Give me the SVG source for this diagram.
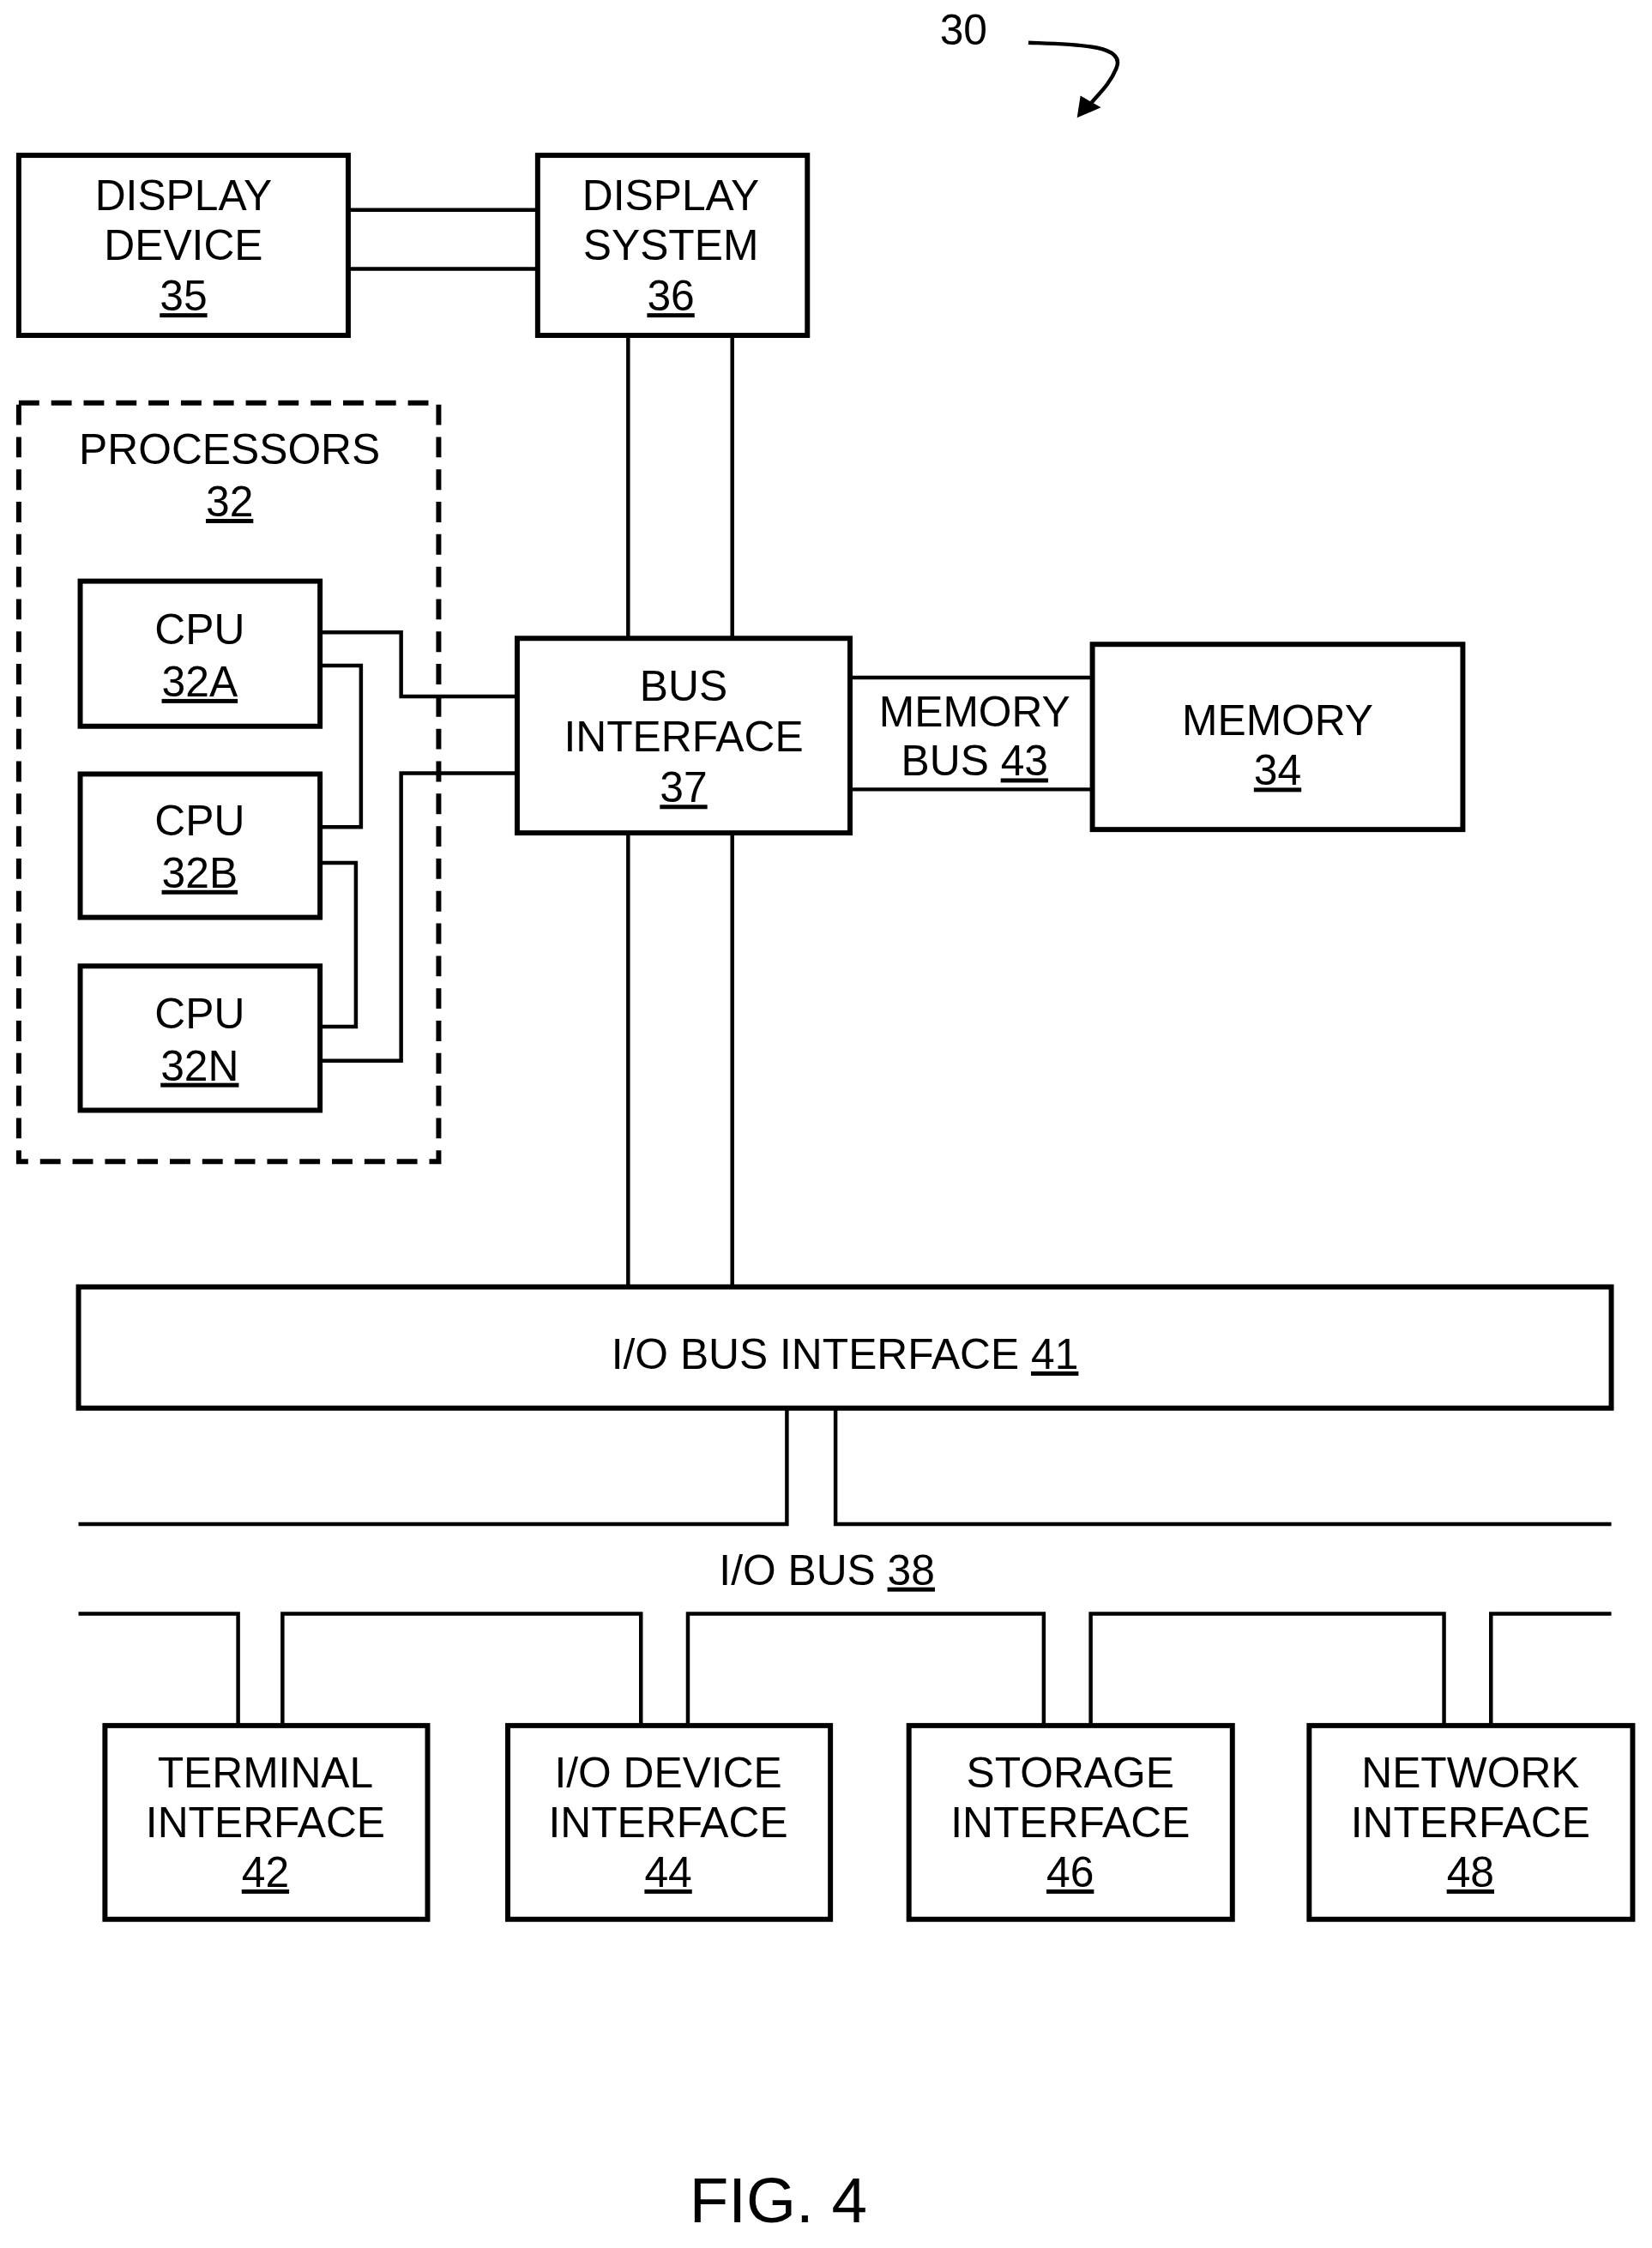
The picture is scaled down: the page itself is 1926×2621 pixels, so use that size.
<svg xmlns="http://www.w3.org/2000/svg" width="1926" height="2621" viewBox="0 0 1926 2621">
<style>
.box{fill:#fff;stroke:#000;stroke-width:6}
.ln{fill:none;stroke:#000;stroke-width:4.5}
text{font-family:"Liberation Sans",Arial,sans-serif;font-size:50px;text-anchor:middle;fill:#000}
.u{text-decoration:underline}
</style>
<rect width="1926" height="2621" fill="#fff"/>
<g transform="scale(0.995)">
<g id="connectors" class="ln">
<path d="M408 246H630M408 315H630"/>
<path d="M736 393V748M858 393V748"/>
<path d="M375 741H470V816H606M375 780H423V969H375M375 1011H417V1203H375M375 1243H470V906H606"/>
<path d="M996 794H1280M996 925H1280"/>
<path d="M736 976V1508M858 976V1508"/>
<path d="M92 1786H922V1650M979 1650V1786H1888"/>
<path d="M92 1891H279V2022M331 2022V1891H751V2022M806 2022V1891H1223V2022M1278 2022V1891H1692V2022M1747 2022V1891H1888"/>
<path d="M1205 50C1260 52 1320 52 1308 80C1300 100 1285 112 1276 124"/>
<polygon points="1262,138 1266,112 1290,126" fill="#000" stroke="none"/>
</g>
<text x="1129" y="52">30</text>
<g id="display-device"><rect class="box" x="22" y="182" width="386" height="211"/><text x="215" y="246">DISPLAY</text><text x="215" y="305">DEVICE</text><text x="215" y="364" class="u">35</text></g>
<g id="display-system"><rect class="box" x="630" y="182" width="316" height="211"/><text x="786" y="246">DISPLAY</text><text x="786" y="305">SYSTEM</text><text x="786" y="364" class="u">36</text></g>
<g id="processors"><rect x="22" y="472" width="492" height="889" fill="none" stroke="#000" stroke-width="6" stroke-dasharray="24 14"/><text x="269" y="544">PROCESSORS</text><text x="269" y="605" class="u">32</text></g>
<g id="cpu-32a"><rect class="box" x="94" y="681" width="281" height="170"/><text x="234" y="755">CPU</text><text x="234" y="816" class="u">32A</text></g>
<g id="cpu-32b"><rect class="box" x="94" y="907" width="281" height="168"/><text x="234" y="979">CPU</text><text x="234" y="1040" class="u">32B</text></g>
<g id="cpu-32n"><rect class="box" x="94" y="1132" width="281" height="169"/><text x="234" y="1205">CPU</text><text x="234" y="1266" class="u">32N</text></g>
<g id="bus-interface"><rect class="box" x="606" y="748" width="390" height="228"/><text x="801" y="821">BUS</text><text x="801" y="880">INTERFACE</text><text x="801" y="940" class="u">37</text></g>
<g id="memory-bus"><text x="1142" y="851">MEMORY</text><text x="1142" y="909">BUS <tspan class="u">43</tspan></text></g>
<g id="memory"><rect class="box" x="1280" y="755" width="434" height="217"/><text x="1497" y="861">MEMORY</text><text x="1497" y="920" class="u">34</text></g>
<g id="io-bus-interface"><rect class="box" x="92" y="1508" width="1796" height="142"/><text x="990" y="1604">I/O BUS INTERFACE <tspan class="u">41</tspan></text></g>
<g id="io-bus"><text x="969" y="1857">I/O BUS <tspan class="u">38</tspan></text></g>
<g id="terminal-interface"><rect class="box" x="123" y="2022" width="378" height="227"/><text x="311" y="2094">TERMINAL</text><text x="311" y="2153">INTERFACE</text><text x="311" y="2211" class="u">42</text></g>
<g id="io-device-interface"><rect class="box" x="595" y="2022" width="378" height="227"/><text x="783" y="2094">I/O DEVICE</text><text x="783" y="2153">INTERFACE</text><text x="783" y="2211" class="u">44</text></g>
<g id="storage-interface"><rect class="box" x="1065" y="2022" width="379" height="227"/><text x="1254" y="2094">STORAGE</text><text x="1254" y="2153">INTERFACE</text><text x="1254" y="2211" class="u">46</text></g>
<g id="network-interface"><rect class="box" x="1534" y="2022" width="379" height="227"/><text x="1723" y="2094">NETWORK</text><text x="1723" y="2153">INTERFACE</text><text x="1723" y="2211" class="u">48</text></g>
<text x="912" y="2604" style="font-size:75px">FIG. 4</text>
</g>
</svg>
